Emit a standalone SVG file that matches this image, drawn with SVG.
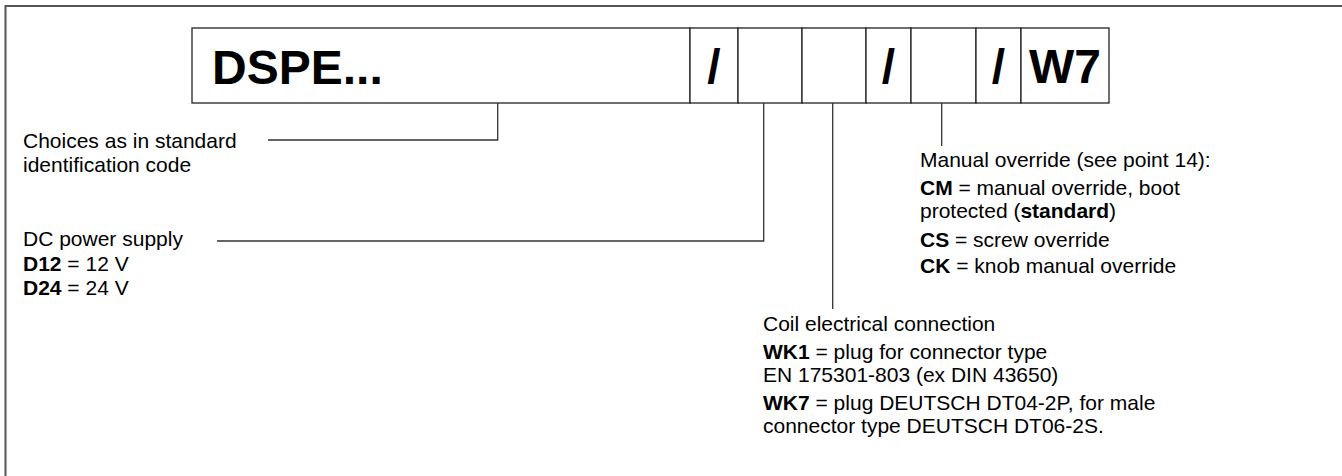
<svg xmlns="http://www.w3.org/2000/svg" width="1342" height="476" viewBox="0 0 1342 476">
<style>
.t{font-family:"Liberation Sans",Arial,sans-serif;font-size:21px;fill:#000}
.b{font-weight:bold}
.big{font-family:"Liberation Sans",Arial,sans-serif;font-size:48px;font-weight:bold;fill:#000}
.cell{fill:#fff;stroke:#222;stroke-width:1.3}
.con{fill:none;stroke:#333;stroke-width:1.3}
</style>
<rect width="1342" height="476" fill="#fff"/>
<path d="M5.5 476 V6 H1342" fill="none" stroke="#555" stroke-width="2"/>
<g id="code">
<rect class="cell" x="192" y="28" width="498" height="75"/>
<rect class="cell" x="690" y="28" width="48" height="75"/>
<rect class="cell" x="738" y="28" width="64" height="75"/>
<rect class="cell" x="802" y="28" width="64" height="75"/>
<rect class="cell" x="866" y="28" width="45" height="75"/>
<rect class="cell" x="911" y="28" width="65" height="75"/>
<rect class="cell" x="976" y="28" width="45" height="75"/>
<rect class="cell" x="1021" y="28" width="88" height="75"/>
<text class="big" x="212" y="84">DSPE...</text>
<text class="big" x="714" y="83" text-anchor="middle">/</text>
<text class="big" x="888.5" y="83" text-anchor="middle">/</text>
<text class="big" x="998.5" y="83" text-anchor="middle">/</text>
<text class="big" x="1065" y="83" text-anchor="middle">W7</text>
</g>
<g id="connectors">
<path class="con" d="M497.7 103 V140 H268"/>
<path class="con" d="M763.7 103 V241 H217"/>
<path class="con" d="M832.7 103 V309"/>
<path class="con" d="M941.7 103 V146"/>
</g>
<g id="choices">
<text class="t" x="23" y="148">Choices as in standard</text>
<text class="t" x="23" y="172">identification code</text>
</g>
<g id="power">
<text class="t" x="23" y="246">DC power supply</text>
<text class="t" x="23" y="271"><tspan class="b">D12</tspan> = 12 V</text>
<text class="t" x="23" y="295"><tspan class="b">D24</tspan> = 24 V</text>
</g>
<g id="coil">
<text class="t" x="763" y="331">Coil electrical connection</text>
<text class="t" x="763" y="359"><tspan class="b">WK1</tspan> = plug for connector type</text>
<text class="t" x="763" y="382">EN 175301-803 (ex DIN 43650)</text>
<text class="t" x="763" y="410"><tspan class="b">WK7</tspan> = plug DEUTSCH DT04-2P, for male</text>
<text class="t" x="763" y="433">connector type DEUTSCH DT06-2S.</text>
</g>
<g id="manual">
<text class="t" x="920" y="167">Manual override (see point 14):</text>
<text class="t" x="920" y="195"><tspan class="b">CM</tspan> = manual override, boot</text>
<text class="t" x="920" y="218">protected (<tspan class="b">standard</tspan>)</text>
<text class="t" x="920" y="247"><tspan class="b">CS</tspan> = screw override</text>
<text class="t" x="920" y="273"><tspan class="b">CK</tspan> = knob manual override</text>
</g>
</svg>
